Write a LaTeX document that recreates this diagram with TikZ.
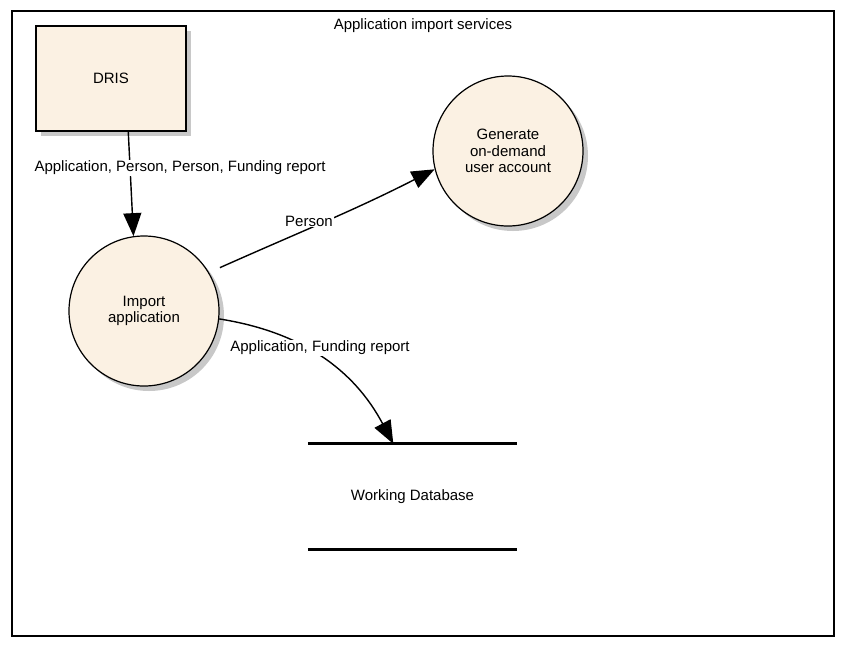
\documentclass[tikz,border=0pt]{standalone}
\usepackage{fontspec}
\setmainfont{Liberation Sans}
\usetikzlibrary{arrows.meta,shadows}
\definecolor{cream}{HTML}{FBF1E3}
\definecolor{shade}{HTML}{C8C8C8}
\tikzset{
  shadowed/.style={drop shadow={shadow xshift=5pt,shadow yshift=-5pt,fill=shade,opacity=1}},
  proc/.style={circle,draw,line width=1.2pt,fill=cream,minimum size=150pt,inner sep=0pt,align=center,shadowed},
  extent/.style={rectangle,draw,line width=1.2pt,fill=cream,minimum width=150pt,minimum height=105pt,shadowed},
  store/.style={rectangle,minimum width=209pt,minimum height=105pt},
  flow/.style={line width=1.4pt,-{Triangle[length=23pt,width=18pt]}},
  lbl/.style={fill=white,inner sep=1pt}
}
\begin{document}
\begin{tikzpicture}[x=1pt,y=-1pt,font=\fontsize{15}{16.5}\selectfont]
  \useasboundingbox (0,0) rectangle (856,657);
  \draw [line width=1.2pt] (12,11) rectangle (834,636);
  \node (title) at (423,26) {Application import services};

  \node [extent] (dris) at (111,78.5) {DRIS};
  \node [proc] (import) at (144,311) {Import\\application};
  \node [proc] (generate) at (508,151) {Generate\\on-demand\\user account};
  \node [store] (db) at (412.5,496.5) {Working Database};
  \draw [line width=3pt] (db.north west) -- (db.north east);
  \draw [line width=3pt] (db.south west) -- (db.south east);

  % flows
  \draw [flow] (dris.-72) -- (import.98);
  \draw [flow] ([xshift=14pt]import.35) to [out=24,in=207] (generate.194);
  \draw [flow] (import.-6) to [out=-9,in=118] (db.110);

  \node [lbl] (lbldris) at (180,168) {Application, Person, Person, Funding report};
  \node [lbl] (lblperson) at (309,221) {Person};
  \node [lbl] (lbldb) at (320,348) {Application, Funding report};
\end{tikzpicture}
\end{document}
